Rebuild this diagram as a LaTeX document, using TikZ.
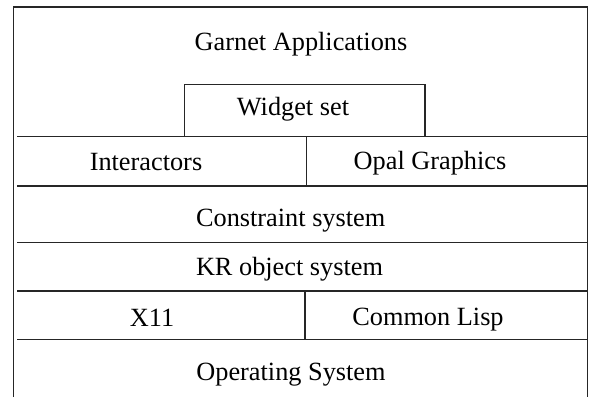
\documentclass[tikz,border=0pt]{standalone}
\usepackage{fontspec}
\setmainfont{Liberation Serif}
\begin{document}
\begin{tikzpicture}[x=1pt,y=-1pt,
  rule/.style={line width=1.1pt,draw=black!85},
  label/.style={anchor=base,inner sep=0pt,font=\fontsize{26.3}{30}\selectfont}]
\useasboundingbox (0,0) rectangle (589,397);
% outer frame (open at the bottom)
\draw[rule] (13.3,397) -- (13.3,7) -- (587.5,7) -- (587.5,397);
% widget set box
\draw[rule] (184.7,136.7) -- (184.7,84.7) -- (425,84.7) -- (425,136.7);
% layer separators
\foreach \yy in {136.7,186,242.7,291,339.3}
  \draw[rule] (17,\yy) -- (587.5,\yy);
% column dividers
\draw[rule] (306.5,136.7) -- (306.5,186);
\draw[rule] (305,291) -- (305,339.3);
% labels
\node[label] (garnet) at (301,50.7) {Garnet Applications};
\node[label] (widget) at (293,115) {Widget set};
\node[label] (inter) at (146,170.5) {Interactors};
\node[label] (opal) at (430,169) {Opal Graphics};
\node[label] (constr) at (290.7,226) {Constraint system};
\node[label] (kr) at (289.5,275) {KR object system};
\node[label] (x11) at (152,326.5) {X11};
\node[label] (lisp) at (428,325) {Common Lisp};
\node[label] (os) at (291,380.7) {Operating System};
\end{tikzpicture}
\end{document}
